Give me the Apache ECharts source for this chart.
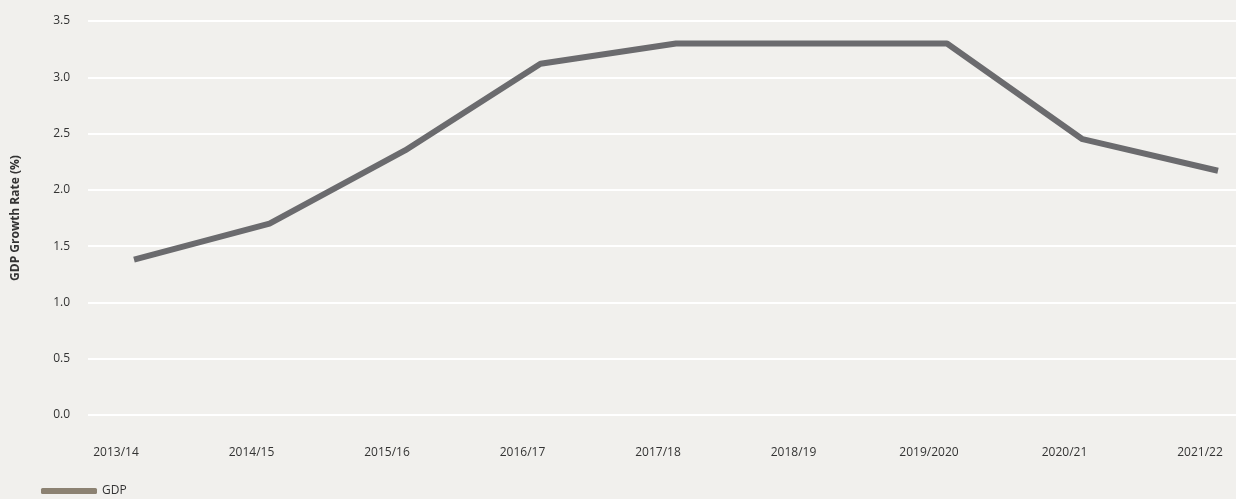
<!DOCTYPE html>
<html><head><meta charset="utf-8">
<script src="https://cdn.jsdelivr.net/npm/echarts@6/dist/echarts.min.js"></script>
<style>html,body{margin:0;padding:0;background:#f1f0ed}#c{width:1236px;height:499px}</style>
</head><body><div id="c"></div>
<script>
const categories = ['2013/14','2014/15','2015/16','2016/17','2017/18','2018/19','2019/2020','2020/21','2021/22'];
const gdpValues = [1.38, 1.70, 2.35, 3.12, 3.30, 3.30, 3.30, 2.45, 2.17];
const seriesName = 'GDP';
const yAxisTitle = 'GDP Growth Rate (%)';

const chart = echarts.init(document.getElementById('c'));
const font = '"Open Sans", "Noto Sans", sans-serif';
chart.setOption({
  backgroundColor: '#f1f0ed',
  animation: false,
  textStyle: { fontFamily: font },
  legend: {
    left: 36, bottom: -3, icon: 'roundRect', itemWidth: 56, itemHeight: 6, itemGap: 8,
    textStyle: { fontSize: 12, color: '#333', fontFamily: font },
    data: [{ name: seriesName, itemStyle: { color: '#8c8272' } }]
  },
  grid: [
    { left: 88, right: 0, top: 21, bottom: 84 },
    { left: 134, right: 18, top: 21, bottom: 84 }
  ],
  xAxis: [
    { gridIndex: 0, type: 'category', data: categories, show: false },
    { gridIndex: 1, type: 'category', data: categories, boundaryGap: false,
      axisLine: { show: false }, axisTick: { show: false }, splitLine: { show: false },
      axisLabel: { color: '#333', fontSize: 12, margin: 32, padding: [0, 36, 0, 0], fontFamily: font } }
  ],
  yAxis: [
    { gridIndex: 0, type: 'value', min: 0, max: 3.5, interval: 0.5,
      name: yAxisTitle, nameLocation: 'middle', nameGap: 66,
      nameTextStyle: { fontWeight: 'bold', fontSize: 12, color: '#333', fontFamily: font },
      axisLine: { show: false }, axisTick: { show: false },
      axisLabel: { color: '#333', fontSize: 12, margin: 18, formatter: v => v.toFixed(1), fontFamily: font },
      splitLine: { lineStyle: { color: '#ffffff', width: 2 } } },
    { gridIndex: 1, type: 'value', min: 0, max: 3.5, interval: 0.5, show: false, splitLine: { show: false } }
  ],
  series: [{
    name: seriesName, type: 'line', xAxisIndex: 1, yAxisIndex: 1, data: gdpValues,
    showSymbol: false, symbol: 'none',
    lineStyle: { color: '#6b6b6e', width: 6 },
    itemStyle: { color: '#8c8272' }
  }]
});
</script></body></html>
